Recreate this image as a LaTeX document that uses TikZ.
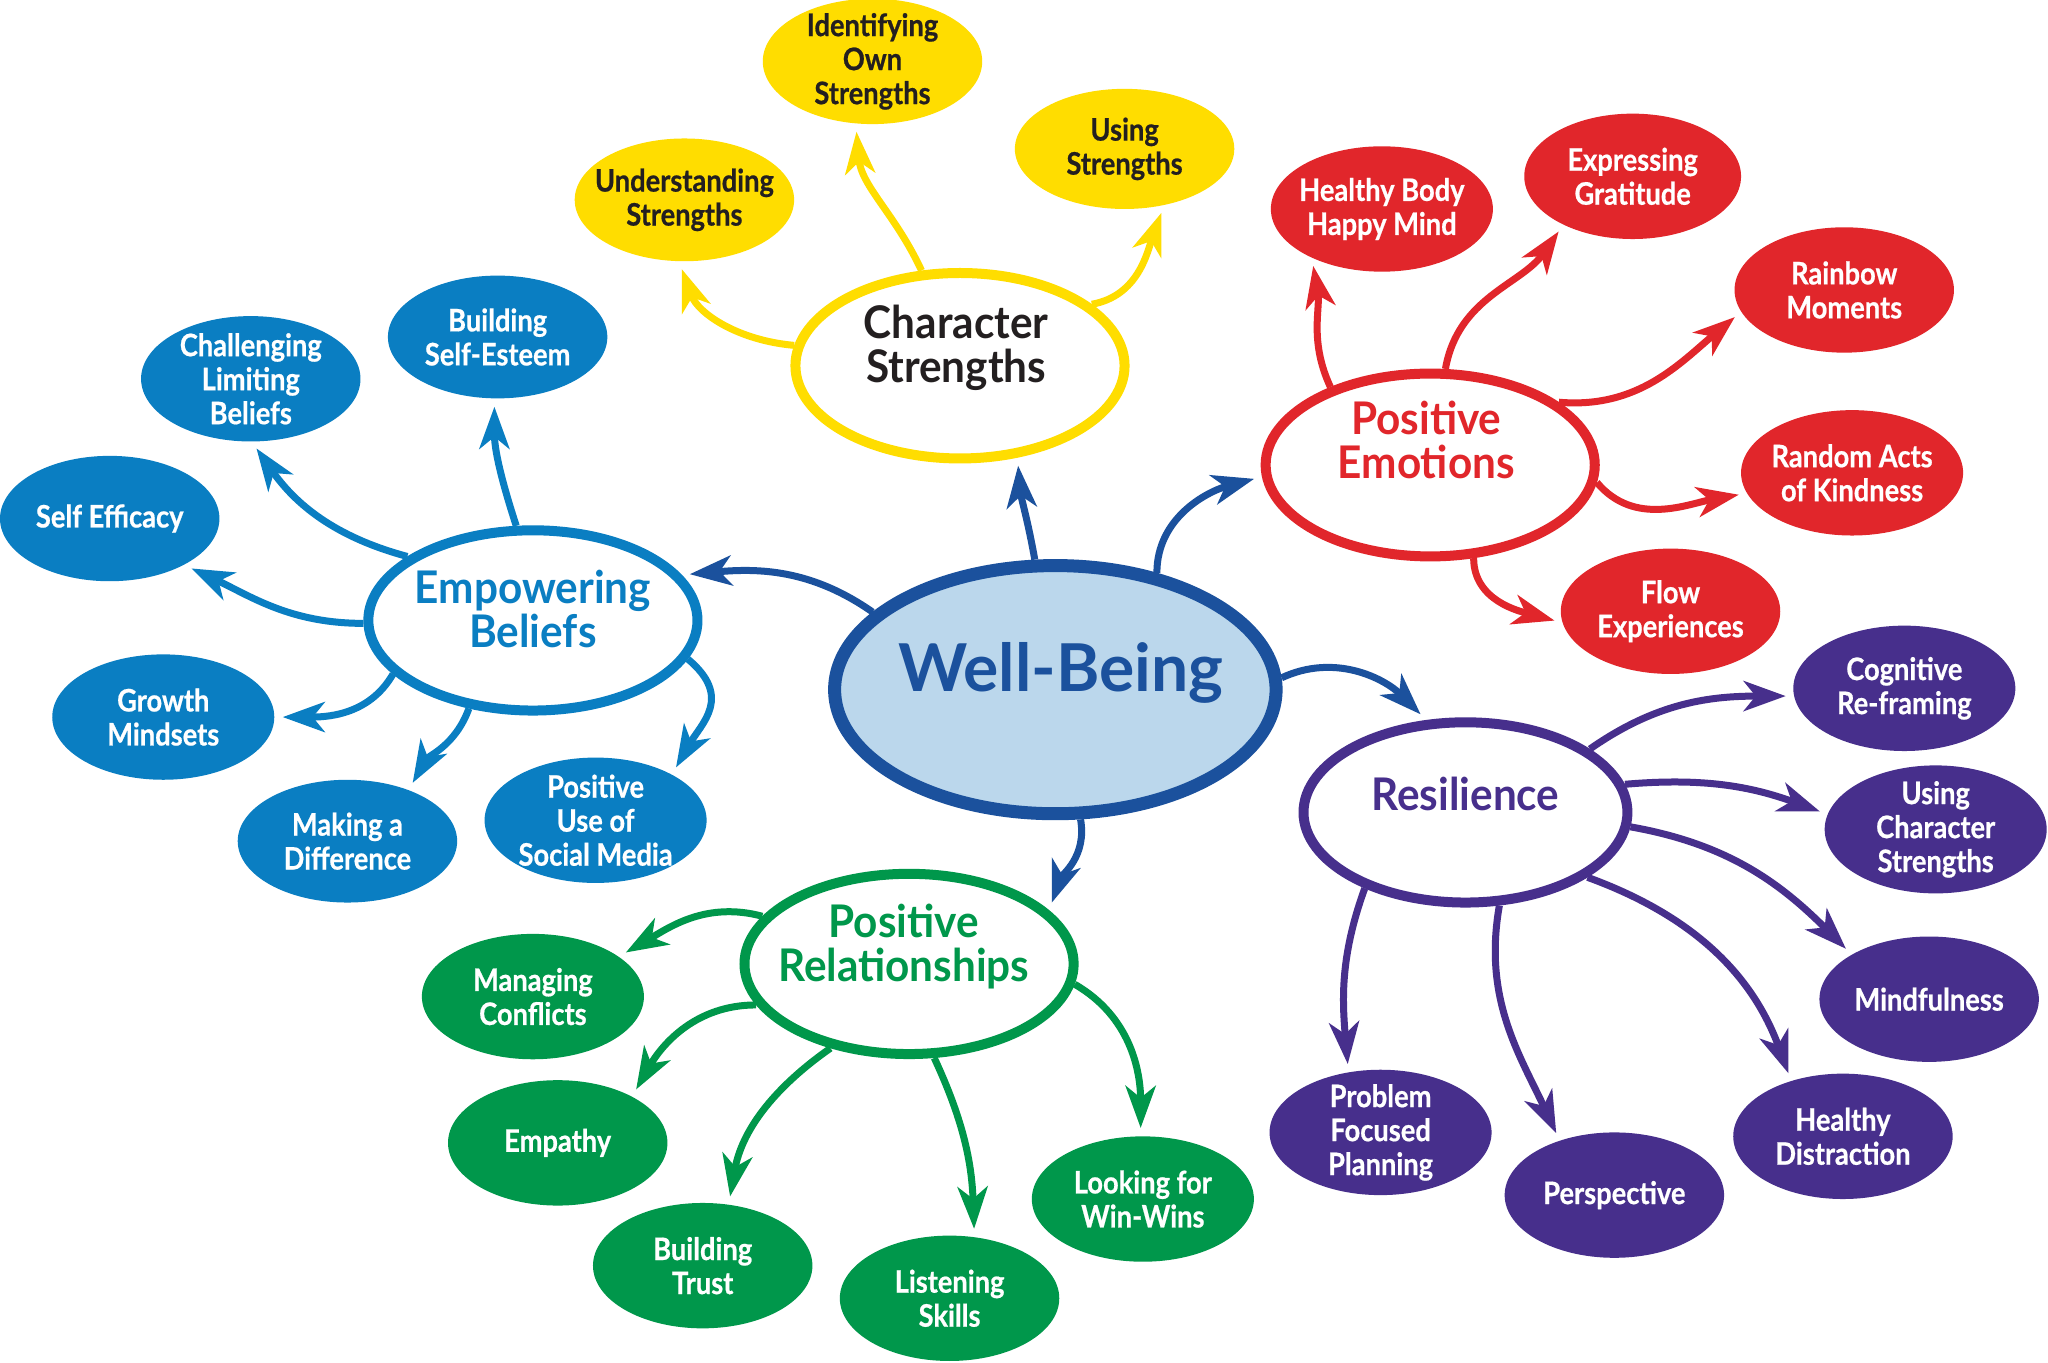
\documentclass[tikz,border=0pt]{standalone}
\usepackage{fontspec}
\setmainfont{Lato}
\newfontfamily\leaffont{Lato}[FakeStretch=0.88, BoldFeatures={FakeBold=0.6}]
\newfontfamily\catfont{Lato}[FakeStretch=0.94]
\usetikzlibrary{shapes.geometric,arrows.meta}
\definecolor{cY}{HTML}{FFDD00}
\definecolor{cB}{HTML}{0A7EC2}
\definecolor{cDB}{HTML}{1B519D}
\definecolor{cLB}{HTML}{BBD7EC}
\definecolor{cR}{HTML}{E1262B}
\definecolor{cP}{HTML}{472F8C}
\definecolor{cG}{HTML}{00974B}
\definecolor{cK}{HTML}{231F20}
\begin{document}
\begin{tikzpicture}[x=0.6531pt,y=-0.6531pt,
  sz/.style 2 args={minimum width=#1*1.3062pt, minimum height=#2*1.3062pt},
  leaf/.style={ellipse, inner xsep=-30pt, inner ysep=-15pt, align=center, text=white,
     font=\leaffont\fontsize{15.5}{17}\selectfont\bfseries},
  cat/.style={ellipse, inner sep=0pt, fill=white, line width=5pt},
  cattxt/.style={align=center, font=\catfont\fontsize{22.5}{22}\selectfont\bfseries},
  arr/.style={line width=3.5pt, -{Stealth[length=21pt,width=15pt,inset=6pt]}, shorten >=4pt}
]
\useasboundingbox[fill=white] (0,0) rectangle (1568,1043);

% central
\node[ellipse, inner sep=0pt, sz={169}{95}, fill=cLB, draw=cDB, line width=6.5pt] (WB) at (808,528) {};
\node[text=cDB, font=\fontsize{33}{36}\selectfont\bfseries] (WBt) at (812,515) {Well-Being};

% yellow
\node[cat, draw=cY, sz={126}{71}] (CS) at (735,280) {};
\node[cattxt, text=cK] (CSt) at (732,266) {Character\\Strengths};
\node[leaf, fill=cY, text=cK, sz={84}{47}] (US) at (524,153) {Understanding\\Strengths};
\node[leaf, fill=cY, text=cK, sz={84}{48}] (IOS) at (668,47) {Identifying\\Own\\Strengths};
\node[leaf, fill=cY, text=cK, sz={84}{46}] (UseS) at (861,114) {Using\\Strengths};

% blue
\node[cat, draw=cB, sz={126}{69}] (EB) at (408,475) {};
\node[cattxt, text=cB] (EBt) at (408,466) {Empowering\\Beliefs};
\node[leaf, fill=cB, sz={84}{47}] (BSE) at (381,258) {Building\\Self-Esteem};
\node[leaf, fill=cB, sz={84}{48}] (CLB) at (192,290) {Challenging\\Limiting\\Beliefs};
\node[leaf, fill=cB, sz={84}{48}] (SE) at (84,397) {Self Efficacy};
\node[leaf, fill=cB, sz={85}{48}] (GM) at (125,549) {Growth\\Mindsets};
\node[leaf, fill=cB, sz={84}{47}] (MAD) at (266,644) {Making a\\Difference};
\node[leaf, fill=cB, sz={85}{48}] (SM) at (456,628) {Positive\\Use of\\Social Media};

% red
\node[cat, draw=cR, sz={126}{70}] (PE) at (1095,356) {};
\node[cattxt, text=cR] (PEt) at (1092,337) {Positive\\Emotions};
\node[leaf, fill=cR, sz={85}{48}] (HB) at (1058,160) {Healthy Body\\Happy Mind};
\node[leaf, fill=cR, sz={83}{48}] (EG) at (1250,135) {Expressing\\Gratitude};
\node[leaf, fill=cR, sz={84}{48}] (RM) at (1412,222) {Rainbow\\Moments};
\node[leaf, fill=cR, sz={85}{48}] (RAK) at (1418,362) {Random Acts\\of Kindness};
\node[leaf, fill=cR, sz={84}{48}] (FE) at (1279,468) {Flow\\Experiences};

% purple
\node[cat, draw=cP, sz={124}{69}] (RS) at (1122,622) {};
\node[cattxt, text=cP] (RSt) at (1122,608) {Resilience};
\node[leaf, fill=cP, sz={85}{48}] (CR) at (1458,527) {Cognitive\\Re-framing};
\node[leaf, fill=cP, sz={85}{49}] (UCS) at (1482,635) {Using\\Character\\Strengths};
\node[leaf, fill=cP, sz={84}{48}] (MF) at (1477,765) {Mindfulness};
\node[leaf, fill=cP, sz={84}{48}] (HD) at (1411,870) {Healthy\\Distraction};
\node[leaf, fill=cP, sz={84}{48}] (PS) at (1236,915) {Perspective};
\node[leaf, fill=cP, sz={85}{48}] (PFP) at (1057,867) {Problem\\Focused\\Planning};

% green
\node[cat, draw=cG, sz={126}{69}] (PR) at (696,738) {};
\node[cattxt, text=cG] (PRt) at (692,725) {Positive\\Relationships};
\node[leaf, fill=cG, sz={85}{48}] (MC) at (408,763) {Managing\\Conflicts};
\node[leaf, fill=cG, sz={84}{48}] (EM) at (427,875) {Empathy};
\node[leaf, fill=cG, sz={84}{48}] (BT) at (538,969) {Building\\Trust};
\node[leaf, fill=cG, sz={84}{48}] (LS) at (727,994) {Listening\\Skills};
\node[leaf, fill=cG, sz={85}{48}] (WW) at (875,918) {Looking for\\Win-Wins};

% connectors
\begin{scope}[cY]
\draw[arr] (CS.173) to[out=175,in=-70] (US.-95);
\draw[arr] (CS.112) to[out=115,in=-85] (IOS.-105);
\draw[arr] (CS.25) to[out=10,in=-110] (UseS.-55);
\end{scope}
\begin{scope}[cB]
\draw[arr] (EB.100) to[out=108,in=-90] (BSE.-93);
\draw[arr] (EB.153) to[out=165,in=-55] (CLB.-89);
\draw[arr] (EB.181) to[out=180,in=-25] (SE.-32);
\draw[arr] (EB.201) to[out=-120,in=0] (GM.0);
\draw[arr] (EB.-126) to[out=-110,in=60] (MAD.40);
\draw[arr] (EB.-14) to[out=-40,in=60,looseness=1.3] (SM.31);
\end{scope}
\begin{scope}[cDB]
\draw[arr] (WB.157) to[out=145,in=5] (EB.17);
\draw[arr] (WB.99) to[out=100,in=-85] (CS.-58);
\draw[arr] (WB.49) to[out=90,in=195] (PE.184);
\draw[arr] (WB.3) to[out=25,in=135] (RS.113);
\draw[arr] (WB.-79) to[out=-80,in=70] (PR.21);
\end{scope}
\begin{scope}[cR]
\draw[arr] (PE.142) to[out=115,in=-80] (HB.-145);
\draw[arr] (PE.81) to[out=80,in=-125] (EG.-145);
\draw[arr] (PE.26) to[out=-5,in=-140] (RM.192);
\draw[arr] (PE.-6) to[out=-50,in=190] (RAK.191);
\draw[arr] (PE.-65) to[out=-90,in=165] (FE.186);
\end{scope}
\begin{scope}[cP]
\draw[arr] (RS.27) to[out=35,in=180] (CR.184);
\draw[arr] (RS.10) to[out=5,in=160] (UCS.172);
\draw[arr] (RS.-5) to[out=-10,in=135] (MF.150);
\draw[arr] (RS.-28) to[out=-20,in=110] (HD.133);
\draw[arr] (RS.-70) to[out=-100,in=115] (PS.135);
\draw[arr] (RS.-143) to[out=-110,in=95] (PFP.118);
\end{scope}
\begin{scope}[cG]
\draw[arr] (PR.162) to[out=165,in=30] (MC.25);
\draw[arr] (PR.195) to[out=180,in=60] (EM.32);
\draw[arr] (PR.-133) to[out=-145,in=80] (BT.67);
\draw[arr] (PR.-75) to[out=-65,in=92] (LS.68);
\draw[arr] (PR.-7) to[out=-30,in=90] (WW.92);
\end{scope}
\end{tikzpicture}
\end{document}
